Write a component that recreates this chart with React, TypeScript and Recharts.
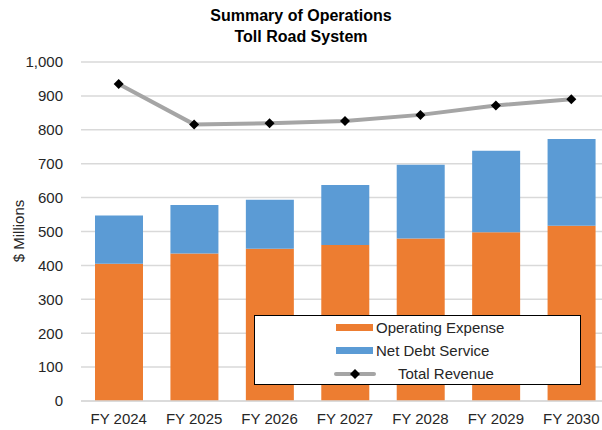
import { ComposedChart, Bar, Line, XAxis, YAxis, CartesianGrid } from "recharts";

const years = ["FY 2024", "FY 2025", "FY 2026", "FY 2027", "FY 2028", "FY 2029", "FY 2030"];
const operatingExpense = [405, 435, 449, 460, 479, 498, 517];
const netDebtService = [142, 143, 145, 177, 218, 240, 256];
const totalRevenue = [935, 816, 819, 826, 844, 872, 890];
const yTicks = [0, 100, 200, 300, 400, 500, 600, 700, 800, 900, 1000];

const data = years.map((year, i) => ({
  year,
  opex: operatingExpense[i],
  debt: netDebtService[i],
  revenue: totalRevenue[i],
}));

const FONT = "'Liberation Sans', Arial, sans-serif";
const TEXT = "#262626";

function Diamond(props: any) {
  const { cx, cy } = props;
  if (cx == null || cy == null) return null;
  const r = 5;
  return <polygon points={`${cx},${cy - r} ${cx + r},${cy} ${cx},${cy + r} ${cx - r},${cy}`} fill="#000" />;
}

function LegendBox() {
  const row = { display: "flex", alignItems: "center", height: 23 } as const;
  return (
    <div
      style={{
        position: "absolute",
        left: 254,
        top: 315,
        border: "1.5px solid #000",
        background: "#fff",
        width: 327,
        height: 70,
        boxSizing: "border-box",
        fontFamily: FONT,
        fontSize: 15,
        color: TEXT,
      }}
    >
      <div style={{ ...row, paddingLeft: 81 }}>
        <span style={{ display: "inline-block", width: 37, height: 7, background: "#ED7D31", marginRight: 3 }} />
        Operating Expense
      </div>
      <div style={{ ...row, paddingLeft: 81 }}>
        <span style={{ display: "inline-block", width: 37, height: 7, background: "#5B9BD5", marginRight: 3 }} />
        Net Debt Service
      </div>
      <div style={{ ...row, paddingLeft: 79 }}>
        <svg width={42} height={12} style={{ marginRight: 22 }}>
          <line x1={2} y1={6} x2={40} y2={6} stroke="#A5A5A5" strokeWidth={4} strokeLinecap="round" />
          <polygon points="21,1 26,6 21,11 16,6" fill="#000" />
        </svg>
        Total Revenue
      </div>
    </div>
  );
}

export default function App() {
  return (
    <div style={{ position: "fixed", left: 0, top: 0, width: 602, height: 430, overflow: "hidden", background: "#fff" }}>
      <div
        style={{
          position: "absolute",
          left: 0,
          top: 5,
          width: 602,
          textAlign: "center",
          fontFamily: FONT,
          fontWeight: "bold",
          fontSize: 16,
          lineHeight: "21px",
          color: "#000",
        }}
      >
        Summary of Operations
        <br />
        Toll Road System
      </div>
      <div
        style={{
          position: "absolute",
          left: 18,
          top: 231,
          transform: "translate(-50%, -50%) rotate(-90deg)",
          fontFamily: FONT,
          fontSize: 15,
          color: TEXT,
          whiteSpace: "nowrap",
        }}
      >
        $ Millions
      </div>
      <ComposedChart
        width={609}
        height={430}
        data={data}
        margin={{ top: 62, right: 0, bottom: 0, left: 0 }}
        barGap={0}
      >
        <CartesianGrid stroke="#D9D9D9" strokeWidth={1.5} vertical={false} />
        <XAxis
          dataKey="year"
          height={29}
          tickLine={false}
          axisLine={{ stroke: "#D9D9D9", strokeWidth: 1.5 }}
          tick={{ fill: TEXT, fontSize: 15, fontFamily: FONT }}
          tickMargin={6}
          interval={0}
        />
        <YAxis
          width={81}
          domain={[0, 1000]}
          ticks={yTicks}
          tickLine={false}
          axisLine={false}
          tick={{ fill: TEXT, fontSize: 15, fontFamily: FONT }}
          tickMargin={12}
          tickFormatter={(v) => Number(v).toLocaleString("en-US")}
        />
        <Bar dataKey="opex" name="Operating Expense" stackId="a" fill="#ED7D31" barSize={48} isAnimationActive={false} />
        <Bar dataKey="debt" name="Net Debt Service" stackId="a" fill="#5B9BD5" barSize={48} isAnimationActive={false} />
        <Line
          dataKey="revenue"
          name="Total Revenue"
          stroke="#A5A5A5"
          strokeWidth={4}
          dot={<Diamond />}
          activeDot={false}
          isAnimationActive={false}
        />
      </ComposedChart>
      <LegendBox />
    </div>
  );
}
